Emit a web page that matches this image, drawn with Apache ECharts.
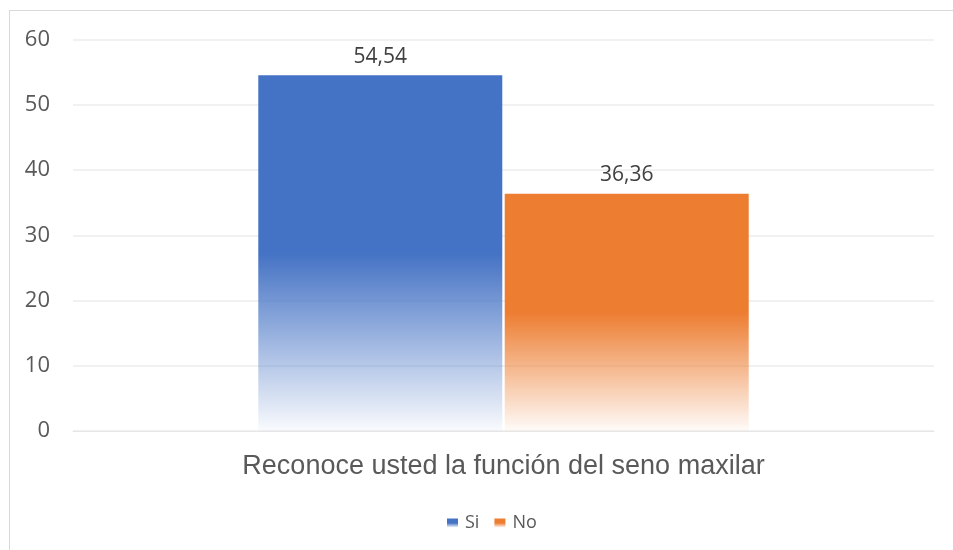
<!DOCTYPE html>
<html><head><meta charset="utf-8">
<script src="https://cdn.jsdelivr.net/npm/echarts@6/dist/echarts.min.js"></script>
<style>
html,body{margin:0;padding:0;background:#fff;}
#frame{position:absolute;left:9px;top:10px;width:960px;height:560px;border:1px solid #d9d9d9;box-sizing:border-box;}
#c{position:absolute;left:0;top:0;width:953px;height:550px;}
</style></head>
<body>
<div id="frame"></div>
<div id="c"></div>
<script>
const categories = ['Reconoce usted la función del seno maxilar'];
const seriesNames = ['Si', 'No'];
const siValues = [54.54];
const noValues = [36.36];
const yTicks = [0, 10, 20, 30, 40, 50, 60];
const colors = ['#4472C4', '#ED7D31'];

function grad(hex){
  const r=parseInt(hex.slice(1,3),16), g=parseInt(hex.slice(3,5),16), b=parseInt(hex.slice(5,7),16);
  return new echarts.graphic.LinearGradient(0,0,0,1,[
    {offset:0,color:hex},
    {offset:0.5,color:hex},
    {offset:1,color:`rgba(${r},${g},${b},0.03)`}
  ]);
}
const chart = echarts.init(document.getElementById('c'), null, {renderer:'canvas'});
const labelStyle = {show:true, position:'top', distance:8, fontFamily:'Open Sans', fontSize:21, color:'#404040',
  formatter: p => p.value.toFixed(2).replace('.', ',')};
chart.setOption({
  animation:false,
  grid:{left:73, right:19, top:39.5, bottom:119, containLabel:false},
  legend:{bottom:13, left:442, itemWidth:11, itemHeight:9, itemGap:15,
    icon:'rect',
    textStyle:{fontFamily:'Open Sans', fontSize:18, color:'#595959', padding:[0,0,0,2]}, data:seriesNames},
  xAxis:{type:'category', data:categories,
    axisLine:{show:true, lineStyle:{color:'#e6e6e6'}}, axisTick:{show:false},
    axisLabel:{fontFamily:'Liberation Sans', fontSize:27, color:'#595959', margin:22}},
  yAxis:{type:'value', min:yTicks[0], max:yTicks[yTicks.length-1], interval:10,
    axisLine:{show:false}, axisTick:{show:false},
    axisLabel:{fontFamily:'Open Sans', fontSize:22, color:'#595959', margin:23},
    splitLine:{lineStyle:{color:'#ececec', width:1.5}}},
  series:[
    {name:seriesNames[0], type:'bar', data:siValues, barWidth:244, barGap:'1%',
      itemStyle:{color:grad(colors[0])}, label:labelStyle},
    {name:seriesNames[1], type:'bar', data:noValues, barWidth:244, barGap:'1%',
      itemStyle:{color:grad(colors[1])}, label:labelStyle}
  ]
});
</script>
</body></html>
